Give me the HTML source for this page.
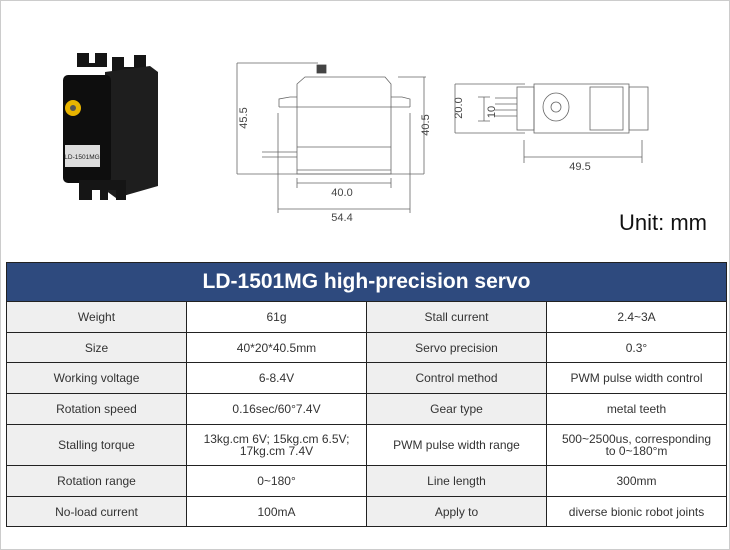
<!DOCTYPE html><html><head><style>
body{margin:0;width:730px;height:550px;background:#fff;overflow:hidden;font-family:"Liberation Sans",sans-serif;position:relative}
.frame{position:absolute;left:0;top:0;width:728px;height:548px;border:1px solid #ccc}
table{position:absolute;left:6px;top:262px;width:721px;border-collapse:collapse;table-layout:fixed}
td{border:1px solid #222;text-align:center;font-size:12px;color:#333;padding:0;line-height:12px}
td.l{background:#efefef}
th{background:#2e4a7e;color:#fff;font-size:21px;height:38px;padding:0;border:1px solid #222;font-weight:bold}
</style></head><body>
<div class="frame"></div>
<svg width="730" height="250" style="position:absolute;left:0;top:0">
<g>
<path d="M77,53h12v10h6v-10h12v14h-30z" fill="#151515"/>
<path d="M112,57h12v10h10v-12h12v20h-34z" fill="#151515"/>
<polygon points="105,72 150,66 158,72 158,186 116,198 105,190" fill="#1e1e1e"/>
<rect x="63" y="75" width="48" height="108" rx="5" fill="#0e0e0e"/>
<path d="M79,180h47v20h-10v-10h-8v10h-8v-10h-8v10h-13z" fill="#151515"/>
<circle cx="73" cy="108" r="8" fill="#e8b400"/><circle cx="73" cy="108" r="3" fill="#555"/>
<rect x="65" y="145" width="35" height="22" fill="#ddd"/>
<text x="82" y="159" font-size="6.5" text-anchor="middle" fill="#222">LD-1501MG</text>
</g>
<g stroke="#666" fill="none" stroke-width="0.8">
<rect x="317" y="65" width="9" height="8" fill="#444" stroke="#444"/>
<path d="M297,174 L297,84 L305,77 L385,77 L391,84 L391,174 Z"/>
<path d="M279,107h131M297,147h94M297,170h94"/>
<path d="M279,107 L279,99 L290,97 L297,97 M391,97 L402,97 L410,99 L410,107"/>
<path d="M262,152h35M262,157h35M237,63h81M237,174h187M398,77h28M237,63v111M424,77v97M278,113v100M410,113v100M297,178v10M391,178v10M297,183h94M278,209h132"/>
<path d="M455,84h70M455,133h70M455,84v49M478,97h12M478,121h12M484,97v24M524,140v23M642,140v23M524,157h118"/>
<rect x="534" y="84" width="95" height="49"/><rect x="517" y="87" width="17" height="43"/><rect x="629" y="87" width="19" height="43"/>
<ellipse cx="556" cy="107" rx="13" ry="14"/><circle cx="556" cy="107" r="5"/><rect x="590" y="87" width="33" height="43"/>
<path d="M495,98h22M495,104h22M495,110h22M495,116h22"/>
</g>
<g font-size="11" fill="#444" text-anchor="middle">
<text x="342" y="196">40.0</text><text x="342" y="221">54.4</text><text x="580" y="170">49.5</text>
<text transform="translate(247,118) rotate(-90)">45.5</text><text transform="translate(429,125) rotate(-90)">40.5</text>
<text transform="translate(462,108) rotate(-90)">20.0</text><text transform="translate(495,112) rotate(-90)">10</text>
</g>
<text x="707" y="230" font-size="22" fill="#111" text-anchor="end">Unit: mm</text>
</svg>
<table>
<tr><th colspan="4">LD-1501MG high-precision servo</th></tr>
<tr style="height:31px"><td class="l">Weight</td><td>61g</td><td class="l">Stall current</td><td>2.4~3A</td></tr>
<tr style="height:30px"><td class="l">Size</td><td>40*20*40.5mm</td><td class="l">Servo precision</td><td>0.3°</td></tr>
<tr style="height:31px"><td class="l">Working voltage</td><td>6-8.4V</td><td class="l">Control method</td><td>PWM pulse width control</td></tr>
<tr style="height:31px"><td class="l">Rotation speed</td><td>0.16sec/60°7.4V</td><td class="l">Gear type</td><td>metal teeth</td></tr>
<tr style="height:41px"><td class="l">Stalling torque</td><td>13kg.cm 6V; 15kg.cm 6.5V;<br>17kg.cm 7.4V</td><td>PWM pulse width range</td><td>500~2500us, corresponding<br>to 0~180°m</td></tr>
<tr style="height:31px"><td class="l">Rotation range</td><td>0~180°</td><td class="l">Line length</td><td>300mm</td></tr>
<tr style="height:30px"><td class="l">No-load current</td><td>100mA</td><td class="l">Apply to</td><td>diverse bionic robot joints</td></tr>
</table>
</body></html>
